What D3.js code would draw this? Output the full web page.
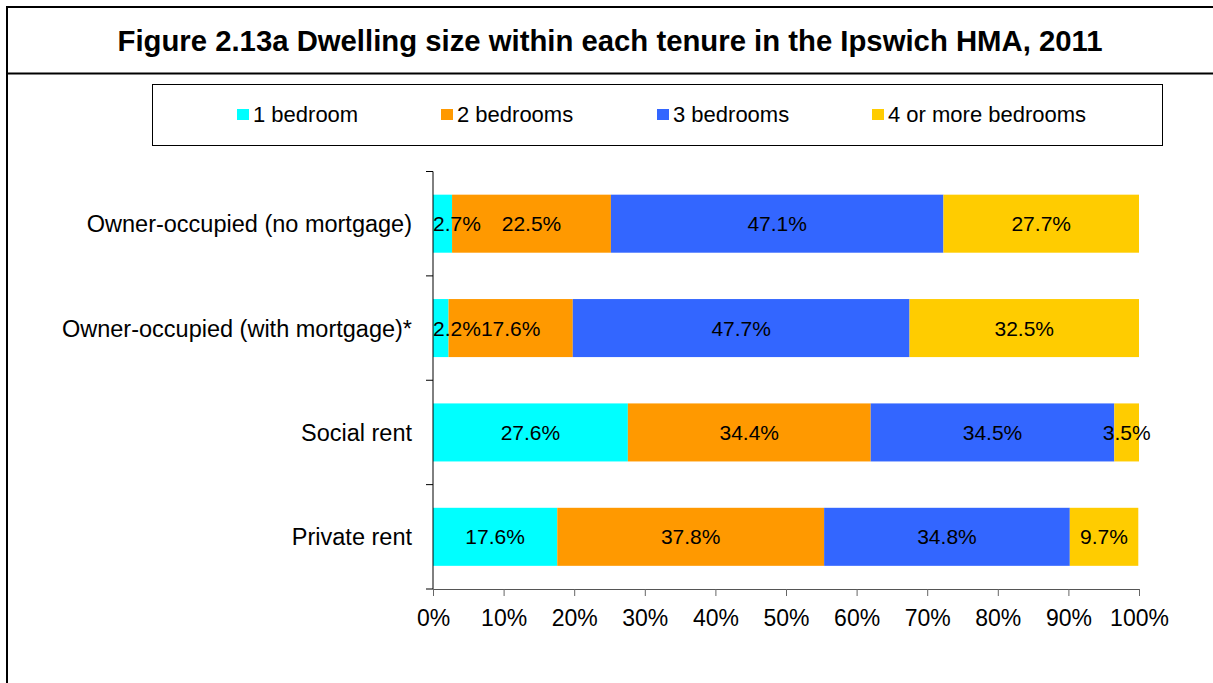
<!DOCTYPE html>
<html>
<head>
<meta charset="utf-8">
<script src="https://d3js.org/d3.v7.min.js"></script>
<style>
  body { margin: 0; background: #fff; }
  svg { display: block; font-family: "Liberation Sans", Arial, sans-serif; }
</style>
</head>
<body>
<svg width="1213" height="683"></svg>
<script>
// DATA
var tenures = ["Owner-occupied (no mortgage)", "Owner-occupied (with mortgage)*", "Social rent", "Private rent"];
var sizes = ["1 bedroom", "2 bedrooms", "3 bedrooms", "4 or more bedrooms"];
var oneBed = [2.7, 2.2, 27.6, 17.6];
var twoBed = [22.5, 17.6, 34.4, 37.8];
var threeBed = [47.1, 47.7, 34.5, 34.8];
var fourBed = [27.7, 32.5, 3.5, 9.7];
var xTicks = [0, 10, 20, 30, 40, 50, 60, 70, 80, 90, 100];
var colors = ["#00FFFF", "#FF9900", "#3366FF", "#FFCC00"];

var svg = d3.select("svg");

// frame + title
svg.append("rect")
  .attr("x", 7).attr("y", 7)
  .attr("width", 1230).attr("height", 700)
  .attr("fill", "none")
  .attr("stroke", "#000")
  .attr("stroke-width", 2);

svg.append("line")
  .attr("x1", 7).attr("x2", 1213)
  .attr("y1", 73.5).attr("y2", 73.5)
  .attr("stroke", "#000")
  .attr("stroke-width", 2);

svg.append("text")
  .attr("x", 610).attr("y", 51)
  .attr("text-anchor", "middle")
  .style("font-size", "29.3px")
  .style("font-weight", "bold")
  .text("Figure 2.13a Dwelling size within each tenure in the Ipswich HMA, 2011");

// LEGEND
var legendX = [237, 441, 657, 872];
svg.append("rect")
  .attr("x", 152.5).attr("y", 84.5)
  .attr("width", 1010).attr("height", 61)
  .attr("fill", "none")
  .attr("stroke", "#000")
  .attr("stroke-width", 1);

var leg = svg.append("g").attr("class", "legend")
  .selectAll("g")
  .data(sizes)
  .enter().append("g")
  .attr("transform", function(d, i) { return "translate(" + legendX[i] + ",0)"; });

leg.append("rect")
  .attr("x", 0).attr("y", 109)
  .attr("width", 12).attr("height", 11)
  .attr("fill", function(d, i) { return colors[i]; });

leg.append("text")
  .attr("x", 16).attr("y", 121.5)
  .style("font-size", "22px")
  .text(function(d) { return d; });

// SCALES
var x = d3.scaleLinear().domain([0, 100]).range([433, 1139]);
var y = d3.scaleBand().domain(tenures).range([171.5, 589]).padding(0);

var rows = tenures.map(function(t, i) {
  return { tenure: t, v0: oneBed[i], v1: twoBed[i], v2: threeBed[i], v3: fourBed[i] };
});
var stack = d3.stack().keys(["v0", "v1", "v2", "v3"]);
var series = stack(rows);

var barH = y.bandwidth() * 0.556;
var barOff = (y.bandwidth() - barH) / 2;

var layers = svg.append("g").attr("class", "bars")
  .selectAll("g")
  .data(series)
  .enter().append("g")
  .attr("fill", function(d, i) { return colors[i]; });

layers.selectAll("rect")
  .data(function(d) { return d; })
  .enter().append("rect")
  .attr("x", function(d) { return x(d[0]); })
  .attr("y", function(d) { return y(d.data.tenure) + barOff; })
  .attr("width", function(d) { return x(d[1]) - x(d[0]); })
  .attr("height", barH);

// bar labels on top of all bars (clamped at left edge of plot like excel)
var allSegs = [];
series.forEach(function(s) { s.forEach(function(d) { allSegs.push(d); }); });

svg.append("g").attr("class", "labels")
  .selectAll("text")
  .data(allSegs)
  .enter().append("text")
  .attr("y", function(d) { return y(d.data.tenure) + y.bandwidth() / 2; })
  .attr("dy", "0.36em")
  .attr("text-anchor", "middle")
  .attr("fill", "#000")
  .style("font-size", "21px")
  .text(function(d) { return d3.format(".1f")(d[1] - d[0]) + "%"; })
  .attr("x", function(d) {
    var w = this.getComputedTextLength();
    var cx = (x(d[0]) + x(d[1])) / 2;
    return Math.max(cx, x(0) + w / 2);
  });

// AXES
var xAxis = svg.append("g")
  .attr("transform", "translate(0,589)")
  .call(d3.axisBottom(x).tickValues(xTicks).tickSize(7).tickPadding(14)
    .tickFormat(function(d) { return d + "%"; }));
xAxis.select(".domain").attr("stroke", "#555");
xAxis.selectAll(".tick line").attr("stroke", "#666");
xAxis.selectAll("text")
  .attr("fill", "#000")
  .style("font-size", "23px")
  .style("font-family", "Liberation Sans, Arial, sans-serif");

// y axis: ticks on band boundaries
var yEdges = tenures.map(function(t) { return y(t); }).concat([589]);
svg.append("line")
  .attr("x1", 433).attr("x2", 433)
  .attr("y1", 171.5).attr("y2", 589)
  .attr("stroke", "#000");
svg.append("g").selectAll("line")
  .data(yEdges)
  .enter().append("line")
  .attr("x1", 426).attr("x2", 433)
  .attr("y1", function(d) { return d; })
  .attr("y2", function(d) { return d; })
  .attr("stroke", "#000");

svg.append("g").selectAll("text")
  .data(tenures)
  .enter().append("text")
  .attr("x", 412)
  .attr("y", function(d) { return y(d) + y.bandwidth() / 2; })
  .attr("dy", "0.36em")
  .attr("text-anchor", "end")
  .style("font-size", "23.5px")
  .text(function(d) { return d; });
</script>
</body>
</html>
